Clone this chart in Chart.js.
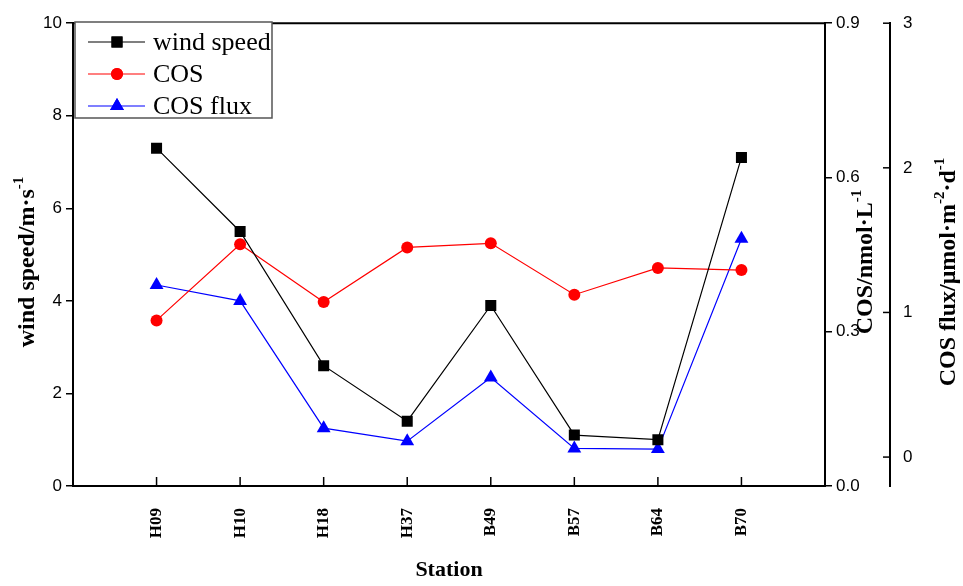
<!DOCTYPE html>
<html>
<head>
<meta charset="utf-8">
<script src="https://cdn.jsdelivr.net/npm/chart.js@4.4.1/dist/chart.umd.min.js"></script>
<style>
  html, body { margin: 0; padding: 0; background: #fff; }
  #wrap { width: 963px; height: 586px; }
</style>
</head>
<body>
<div id="wrap"><canvas id="chart" width="963" height="586"></canvas></div>
<script>
const stations = ["H09", "H10", "H18", "H37", "B49", "B57", "B64", "B70"];
const windSpeed = [7.3, 5.5, 2.6, 1.4, 3.9, 1.1, 1.0, 7.1];
const cos = [0.322, 0.470, 0.358, 0.464, 0.472, 0.372, 0.424, 0.420];
const cosFlux = [1.19, 1.08, 0.20, 0.11, 0.55, 0.06, 0.055, 1.51];
const windTicks = [0, 2, 4, 6, 8, 10];
const cosTicks = [0.0, 0.3, 0.6, 0.9];
const fluxTicks = [0, 1, 2, 3];

const SERIF = '"Liberation Serif", "Times New Roman", serif';
const SANS = '"Liberation Sans", Arial, sans-serif';

function toPoints(values) {
  return values.map((v, i) => ({ x: i + 1, y: v }));
}

function setTicks(list) {
  return (scale) => {
    scale.ticks = list.map((v) => ({ value: v }));
  };
}

// vertical title reading bottom to top, with superscripts
function drawVerticalTitle(ctx, parts, cx, cy) {
  const base = "bold 24px " + SERIF;
  const sup = "bold 15px " + SERIF;
  let total = 0;
  parts.forEach((p) => {
    ctx.font = p.sup ? sup : base;
    p.w = ctx.measureText(p.t).width;
    total += p.w;
  });
  ctx.save();
  ctx.translate(cx, cy);
  ctx.rotate(-Math.PI / 2);
  ctx.fillStyle = "#000";
  ctx.textAlign = "left";
  ctx.textBaseline = "middle";
  let x = -total / 2;
  parts.forEach((p) => {
    ctx.font = p.sup ? sup : base;
    ctx.fillText(p.t, x, p.sup ? -9 : 0);
    x += p.w;
  });
  ctx.restore();
}

const series = [
  { label: "wind speed", color: "#000000", style: "rect", radius: 7.8 },
  { label: "COS", color: "#ff0000", style: "circle", radius: 6 },
  { label: "COS flux", color: "#0000ff", style: "triangle", radius: 8 },
];

const extras = {
  id: "extras",
  afterDraw(chart) {
    const ctx = chart.ctx;
    const area = chart.chartArea;
    const x = chart.scales.x;
    const y2 = chart.scales.y2;

    ctx.save();
    ctx.strokeStyle = "#000";

    // top frame line
    ctx.lineWidth = 2;
    ctx.beginPath();
    ctx.moveTo(area.left - 1, area.top);
    ctx.lineTo(area.right + 1, area.top);
    ctx.stroke();

    // inward ticks on the x axis
    ctx.lineWidth = 1.5;
    x.ticks.forEach((t) => {
      const px = x.getPixelForValue(t.value);
      ctx.beginPath();
      ctx.moveTo(px, area.bottom);
      ctx.lineTo(px, area.bottom - 9);
      ctx.stroke();
    });

    // ticks on the left side of the flux axis
    y2.ticks.forEach((t) => {
      const py = y2.getPixelForValue(t.value);
      ctx.beginPath();
      ctx.moveTo(y2.left - 7, py);
      ctx.lineTo(y2.left, py);
      ctx.stroke();
    });
    ctx.restore();

    drawVerticalTitle(ctx, [{ t: "wind speed/m·s" }, { t: "-1", sup: true }], 28, 262);
    drawVerticalTitle(ctx, [{ t: "COS/nmol·L" }, { t: "-1", sup: true }], 866, 262);
    drawVerticalTitle(ctx, [
      { t: "COS flux/μmol·m" }, { t: "-2", sup: true },
      { t: "·d" }, { t: "-1", sup: true },
    ], 949, 272);

    // legend box
    ctx.save();
    ctx.fillStyle = "#fff";
    ctx.fillRect(75, 22, 197, 96);
    ctx.strokeStyle = "#555";
    ctx.lineWidth = 1.5;
    ctx.strokeRect(75, 22, 197, 96);
    series.forEach((s, i) => {
      const ry = 42 + i * 32;
      ctx.strokeStyle = s.color;
      ctx.lineWidth = 1.2;
      ctx.beginPath();
      ctx.moveTo(88, ry);
      ctx.lineTo(145, ry);
      ctx.stroke();
      ctx.fillStyle = s.color;
      Chart.helpers.drawPoint(ctx, { pointStyle: s.style, radius: s.radius, borderWidth: 0 }, 117, ry);
      ctx.fill();
      ctx.fillStyle = "#000";
      ctx.font = "26px " + SERIF;
      ctx.textAlign = "left";
      ctx.textBaseline = "middle";
      ctx.fillText(s.label, 153, ry + 1);
    });
    ctx.restore();
  },
};

const datasets = [
  { data: toPoints(windSpeed), yAxisID: "y", s: series[0] },
  { data: toPoints(cos), yAxisID: "y1", s: series[1] },
  { data: toPoints(cosFlux), yAxisID: "y2", s: series[2] },
].map((d) => ({
  label: d.s.label,
  data: d.data,
  yAxisID: d.yAxisID,
  borderColor: d.s.color,
  backgroundColor: d.s.color,
  borderWidth: 1.2,
  pointStyle: d.s.style,
  pointRadius: d.s.radius,
  pointBorderWidth: 0,
  pointBackgroundColor: d.s.color,
  tension: 0,
}));

const axisBorder = { display: true, color: "#000", width: 2 };

new Chart(document.getElementById("chart"), {
  type: "line",
  data: { datasets },
  options: {
    responsive: false,
    animation: false,
    layout: { padding: { top: 19, left: 0, right: 0, bottom: 0 } },
    plugins: {
      legend: { display: false },
      tooltip: { enabled: false },
    },
    scales: {
      x: {
        type: "linear",
        min: 0,
        max: 9,
        afterBuildTicks: (scale) => {
          scale.ticks = stations.map((s, i) => ({ value: i + 1 }));
        },
        afterFit: (scale) => { scale.height = 100; },
        grid: { display: false, drawTicks: false },
        border: axisBorder,
        ticks: {
          autoSkip: false,
          minRotation: 90,
          maxRotation: 90,
          padding: 22,
          color: "#000",
          font: { family: SERIF, size: 17, weight: "bold" },
          callback: (v) => stations[v - 1] || "",
        },
        title: {
          display: true,
          text: "Station",
          color: "#000",
          font: { family: SERIF, size: 22, weight: "bold" },
          padding: { top: 0, bottom: 2 },
        },
      },
      y: {
        position: "left",
        min: 0,
        max: 10,
        afterBuildTicks: setTicks(windTicks),
        afterFit: (scale) => { scale.width = 73; },
        grid: { drawOnChartArea: false, drawTicks: true, tickLength: 7, color: "#000", lineWidth: 1.5 },
        border: axisBorder,
        ticks: {
          padding: 4,
          color: "#000",
          font: { family: SANS, size: 17 },
          callback: (v) => String(v),
        },
      },
      y1: {
        position: "right",
        min: 0,
        max: 0.9,
        afterBuildTicks: setTicks(cosTicks),
        afterFit: (scale) => { scale.width = 65; },
        grid: { drawOnChartArea: false, drawTicks: true, tickLength: 7, color: "#000", lineWidth: 1.5 },
        border: axisBorder,
        ticks: {
          padding: 4,
          color: "#000",
          font: { family: SANS, size: 17 },
          callback: (v) => v.toFixed(1),
        },
      },
      y2: {
        position: "right",
        min: -0.2,
        max: 3,
        afterBuildTicks: setTicks(fluxTicks),
        afterFit: (scale) => { scale.width = 73; },
        grid: { display: false, drawTicks: false },
        border: axisBorder,
        ticks: {
          padding: 13,
          color: "#000",
          font: { family: SANS, size: 17 },
          callback: (v) => String(v),
        },
      },
    },
  },
  plugins: [extras],
});
</script>
</body>
</html>
